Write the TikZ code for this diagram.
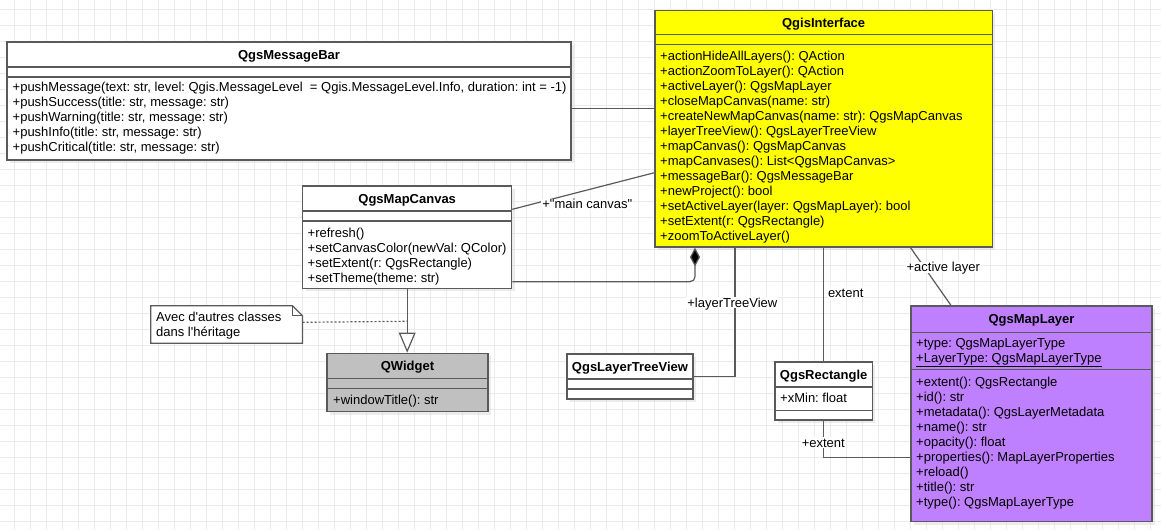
\documentclass[tikz,border=0pt]{standalone}
\usepackage{fontspec}
\setmainfont{Liberation Sans}[Ligatures=TeXOff]
\usetikzlibrary{arrows.meta,shadows}
\frenchspacing

\definecolor{linegray}{RGB}{90,90,90}
\definecolor{gridgray}{RGB}{235,235,235}
\definecolor{ifaceyellow}{RGB}{255,255,0}
\definecolor{layerpurple}{RGB}{191,128,255}
\definecolor{widgetgray}{RGB}{192,192,192}

\tikzset{
  umlbox/.style={draw=linegray, line width=1.2pt, fill=white, rectangle, inner sep=0pt,
    drop shadow={shadow xshift=3pt, shadow yshift=-3pt, fill=black!15, opacity=0.5}},
  umltitle/.style={font=\fontsize{13}{15}\selectfont\bfseries, inner sep=0pt,
    text height=9.2pt, text depth=0pt},
  umlmembers/.style={font=\fontsize{13}{15}\selectfont, inner sep=0pt, align=left,
    anchor=north west},
  umlsep/.style={draw=linegray, line width=1.2pt},
  assoc/.style={draw=linegray, line width=1.2pt},
  rolelabel/.style={font=\fontsize{13}{15}\selectfont, fill=white, inner sep=1pt,
    text height=9.2pt, text depth=0pt},
  gridline/.style={draw=gridgray, line width=1.3pt},
}

\begin{document}
\begin{tikzpicture}[x=1pt, y=-1pt]
    \useasboundingbox (0,0) rectangle (1161,530);

    % Grid
    \foreach \gx in {14.7,30.7,...,1161}
      \draw[gridline] (\gx,0) -- (\gx,530);
    \foreach \gy in {9.7,25.7,...,530}
      \draw[gridline] (0,\gy) -- (1161,\gy);

    % Classes
    \node[umlbox, minimum width=564, minimum height=118] (msgbar) at (289,101) {};
    \node[umlbox, minimum width=209, minimum height=102.3] (canvas) at (407.2,237.15) {};
    \node[umlbox, fill=ifaceyellow, minimum width=337.3, minimum height=236.3] (iface) at (823.65,128.85) {};
    \node[umlbox, fill=layerpurple, minimum width=241, minimum height=215.7] (maplayer) at (1031.5,413.85) {};
    \node[umlbox, fill=widgetgray, minimum width=161, minimum height=58.4] (qwidget) at (407.5,382.5) {};
    \node[umlbox, minimum width=126, minimum height=45] (treeview) at (630,376.5) {};
    \node[umlbox, minimum width=97.3, minimum height=58] (rect) at (823.65,391) {};

    % Compartments
    \draw[umlsep] (msgbar.west |- 0,67) -- (msgbar.east |- 0,67);
    \draw[umlsep] (msgbar.west |- 0,77) -- (msgbar.east |- 0,77);
    \draw[umlsep] (canvas.west |- 0,211) -- (canvas.east |- 0,211);
    \draw[umlsep] (canvas.west |- 0,221) -- (canvas.east |- 0,221);
    \draw[umlsep] (iface.west |- 0,34.7) -- (iface.east |- 0,34.7);
    \draw[umlsep] (iface.west |- 0,44.7) -- (iface.east |- 0,44.7);
    \draw[umlsep] (maplayer.west |- 0,332.3) -- (maplayer.east |- 0,332.3);
    \draw[umlsep] (maplayer.west |- 0,369.3) -- (maplayer.east |- 0,369.3);
    \draw[umlsep] (qwidget.west |- 0,378.3) -- (qwidget.east |- 0,378.3);
    \draw[umlsep] (qwidget.west |- 0,388.7) -- (qwidget.east |- 0,388.7);
    \draw[umlsep] (treeview.west |- 0,379) -- (treeview.east |- 0,379);
    \draw[umlsep] (treeview.west |- 0,389) -- (treeview.east |- 0,389);
    \draw[umlsep] (rect.west |- 0,387) -- (rect.east |- 0,387);
    \draw[umlsep] (rect.west |- 0,410.3) -- (rect.east |- 0,410.3);

    % Titles
    \node[umltitle] at (msgbar.center |- 0,54.5) {QgsMessageBar};
    \node[umltitle] at (canvas.center |- 0,198.5) {QgsMapCanvas};
    \node[umltitle] at (iface.center |- 0,22.7) {QgisInterface};
    \node[umltitle] at (maplayer.center |- 0,319) {QgsMapLayer};
    \node[umltitle] at (qwidget.center |- 0,365.8) {QWidget};
    \node[umltitle] at (treeview.center |- 0,366.5) {QgsLayerTreeView};
    \node[umltitle] at (rect.center |- 0,374.5) {QgsRectangle};

    % Members
    \node[umlmembers] at (12.5,80.8) {\strut+pushMessage(text: str, level: Qgis.MessageLevel \ = Qgis.MessageLevel.Info, duration: int = -1)\\
      +pushSuccess(title: str, message: str)\\
      +pushWarning(title: str, message: str)\\
      +pushInfo(title: str, message: str)\\
      +pushCritical(title: str, message: str)};
    \node[umlmembers] at (307.5,226.4) {\strut+refresh()\\
      +setCanvasColor(newVal: QColor)\\
      +setExtent(r: QgsRectangle)\\
      +setTheme(theme: str)};
    \node[umlmembers] at (660,49.8) {\strut+actionHideAllLayers(): QAction\\
      +actionZoomToLayer(): QAction\\
      +activeLayer(): QgsMapLayer\\
      +closeMapCanvas(name: str)\\
      +createNewMapCanvas(name: str): QgsMapCanvas\\
      +layerTreeView(): QgsLayerTreeView\\
      +mapCanvas(): QgsMapCanvas\\
      +mapCanvases(): List<QgsMapCanvas>\\
      +messageBar(): QgsMessageBar\\
      +newProject(): bool\\
      +setActiveLayer(layer: QgsMapLayer): bool\\
      +setExtent(r: QgsRectangle)\\
      +zoomToActiveLayer()};
    \node[umlmembers] at (916,336.4) {\strut+type: QgsMapLayerType\\
      \underline{+LayerType: QgsMapLayerType}};
    \node[umlmembers] at (916,375.8) {\strut+extent(): QgsRectangle\\
      +id(): str\\
      +metadata(): QgsLayerMetadata\\
      +name(): str\\
      +opacity(): float\\
      +properties(): MapLayerProperties\\
      +reload()\\
      +title(): str\\
      +type(): QgsMapLayerType};
    \node[umlmembers] at (333,394.1) {\strut+windowTitle(): str};
    \node[umlmembers] at (780,391.4) {\strut+xMin: float};

    % Note
    \node[minimum width=151.3, minimum height=37, inner sep=0pt] (note) at (226.65,324.5) {};
    \draw[assoc, fill=white] (note.north west) -- ([xshift=-10pt]note.north east)
      -- ([yshift=-10pt]note.north east) -- (note.south east) -- (note.south west) -- cycle;
    \draw[assoc] ([xshift=-10pt]note.north east) -- ([xshift=-10pt, yshift=-10pt]note.north east)
      -- ([yshift=-10pt]note.north east);
    \node[umlmembers, font=\fontsize{13}{12.6}\selectfont] at (156,312.3) {\strut Avec d'autres classes\\dans l'héritage};

    % Connections
    \draw[assoc] (msgbar.east |- 0,108.3) -- (iface.west |- 0,108.3);
    \draw[assoc] (canvas.east |- 0,209.3) -- (iface.west |- 0,172.7);
    \draw[assoc, rounded corners=5pt, -{Diamond[length=19pt, width=10pt, fill=black]}]
      (canvas.east |- 0,281.7) -| (iface.south -| 695,0);
    \draw[assoc] (treeview.east) -| (iface.south -| 735,0);
    \draw[assoc] (rect.north) -- (iface.south -| rect.north);
    \draw[assoc] (iface.south -| 910.5,0) -- (maplayer.north -| 951,0);
    \draw[assoc] (rect.south) |- (maplayer.west |- 0,457.7);
    \draw[assoc, -{Triangle[fill=white, length=20pt, width=16.7pt]}]
      (canvas.south) -- (canvas.south |- qwidget.north);
    \coordinate (inh) at (canvas.south |- 0,321.3);
    \draw[assoc, dash pattern=on 2pt off 2pt] (note.east |- 0,322.3) -- (inh);

    % Labels
    \node[rolelabel] (mainlbl) at (587.3,204.3) {+"main canvas"};
    \node[rolelabel] (treelbl) at (732.3,302.7) {+layerTreeView};
    \node[rolelabel] (extentlbl) at (845.7,292.7) {extent};
    \node[rolelabel] (activelbl) at (943.3,267.3) {+active layer};
    \node[rolelabel] (extlbl) at (823.3,442.7) {+extent};
\end{tikzpicture}
\end{document}
